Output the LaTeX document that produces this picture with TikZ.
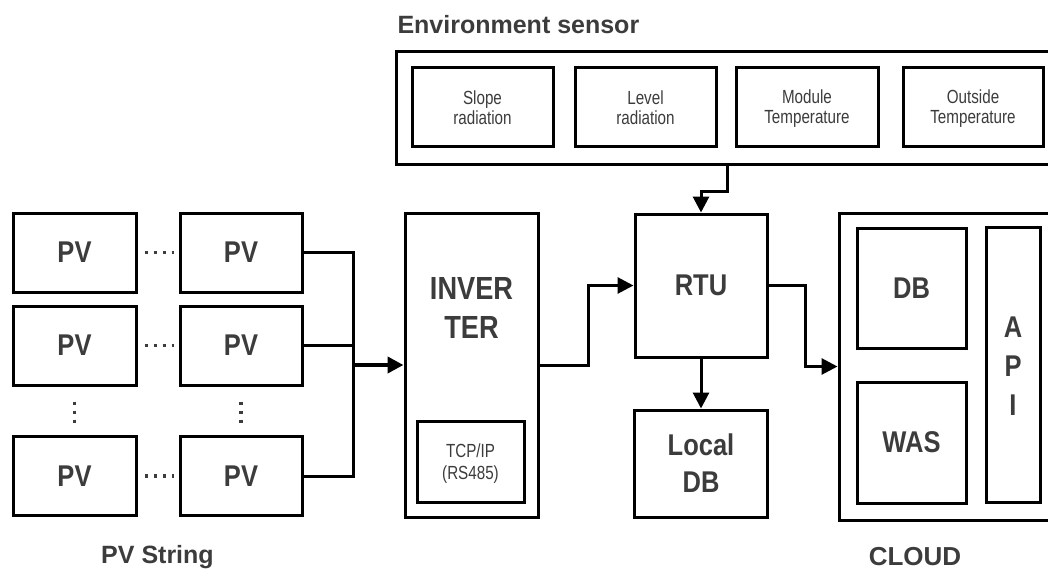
\documentclass[tikz,border=0pt]{standalone}
\usepackage{fontspec}
\setmainfont{Liberation Sans}
\newfontfamily\labf[FakeStretch=0.85]{Liberation Sans}
\newfontfamily\narf[FakeStretch=0.8]{Liberation Sans}
\usetikzlibrary{arrows.meta}
\definecolor{txt}{HTML}{3C3C3C}
\newcommand\mysst{\rule[-1pt]{0pt}{17pt}}
\newcommand\mytst{\rule[-2pt]{0pt}{19pt}}
\newcommand\mylst{\rule[-2pt]{0pt}{24pt}}
\newcommand\myast{\rule[-1pt]{0pt}{25pt}}
\begin{document}
\begin{tikzpicture}[x=1pt,y=-1pt,
  box/.style={draw=black, line width=3pt, inner sep=0pt, text=txt},
  big/.style={font=\labf\bfseries\fontsize{30}{36}\selectfont},
  small/.style={font=\narf\fontsize{19}{20}\selectfont, align=center},
  wire/.style={draw=black, line width=3pt},
  arr/.style={wire, -{Triangle[length=16pt,width=16pt]}},
  dotline/.style={draw=txt, line width=3.5pt, dash pattern=on 3.5pt off 5.5pt},
  lab/.style={text=txt, font=\bfseries\fontsize{25}{30}\selectfont}]
\useasboundingbox (0,0) rectangle (1048,572);
\clip (0,0) rectangle (1048,572);
\fill[white] (0,0) rectangle (1048,572);
% PV string
\foreach \r/\y in {1/252.5,2/345.5,3/476}{
  \node[box,big,minimum width=123pt,minimum height=79pt] (pv\r1) at (74.5,\y) {PV};
  \node[box,big,minimum width=122pt,minimum height=79pt] (pv\r2) at (241,\y) {PV};
  \draw[dotline, shorten <=7pt, shorten >=5pt] (pv\r1.east) -- (pv\r2.west);
}
\draw[dotline, shorten <=15pt, shorten >=12pt] (pv21.south) -- (pv31.north);
\draw[dotline, shorten <=15pt, shorten >=12pt] (pv22.south) -- (pv32.north);
\node[lab] (pvs) at (157.5,557) {PV String};
% inverter
\node[box,minimum width=133pt,minimum height=304pt] (inv) at (471.5,365) {};
\node[text=txt,font=\labf\bfseries\fontsize{32}{39}\selectfont,align=center] (invt) at (471.5,307.5) {INVER\\TER};
\node[box,small,font=\narf\fontsize{19}{22}\selectfont,minimum width=107pt,minimum height=81pt] (tcp) at (470.5,461.5) {\mytst TCP/IP\\\mytst(RS485)};
% bus
\coordinate (bus) at (353,365);
\draw[wire] (pv12.east) -| (bus) |- (pv32.east);
\draw[wire] (pv22.east) -- (pv22.east -| bus);
\draw[arr, line width=4pt] (bus) -- (inv.west);
% RTU
\node[box,big,minimum width=132pt,minimum height=143pt] (rtu) at (701,285.5) {RTU};
\node[box,align=center,font=\labf\bfseries\fontsize{30}{37}\selectfont,minimum width=133pt,minimum height=107pt] (ldb) at (701,463.5) {\mylst Local\\\mylst DB};
\draw[arr] (inv.east) -- ++(49,0) |- (rtu.west);
\draw[arr] (rtu.south) -- (ldb.north);
% environment sensor
\node[lab,anchor=west] (envt) at (394,25) {Environment sensor};
\node[box,minimum width=684pt,minimum height=113pt] (env) at (738,108.5) {};
\node[box,small,minimum width=141pt,minimum height=79pt] (s1) at (482.5,107.5) {\mysst Slope\\\mysst radiation};
\node[box,small,minimum width=141pt,minimum height=79pt] (s2) at (645.5,107.5) {\mysst Level\\\mysst radiation};
\node[box,small,minimum width=142pt,minimum height=79pt] (s3) at (807,107.5) {\mysst Module\\\mysst Temperature};
\node[box,small,minimum width=140pt,minimum height=79pt] (s4) at (973,107.5) {\mysst Outside\\\mysst Temperature};
\coordinate (envout) at (727,165);
\draw[arr] (envout |- env.south) -- ++(0,25) -| (rtu.north);
% cloud
\node[box,minimum width=241pt,minimum height=307pt] (cloud) at (959.5,366.5) {};
\node[box,big,minimum width=109pt,minimum height=120pt] (cdb) at (911.5,288) {DB};
\node[box,big,minimum width=109pt,minimum height=121pt] (was) at (911.5,442.5) {WAS};
\node[box,align=center,font=\labf\bfseries\fontsize{30}{39}\selectfont,minimum width=54pt,minimum height=275pt] (api) at (1013,364.5) {\myast A\\\myast P\\\myast I};
\draw[arr] (rtu.east) -- ++(37,0) |- (cloud.west);
\node[lab,font=\bfseries\fontsize{26}{30}\selectfont] (cl) at (915,557) {CLOUD};
\end{tikzpicture}
\end{document}
